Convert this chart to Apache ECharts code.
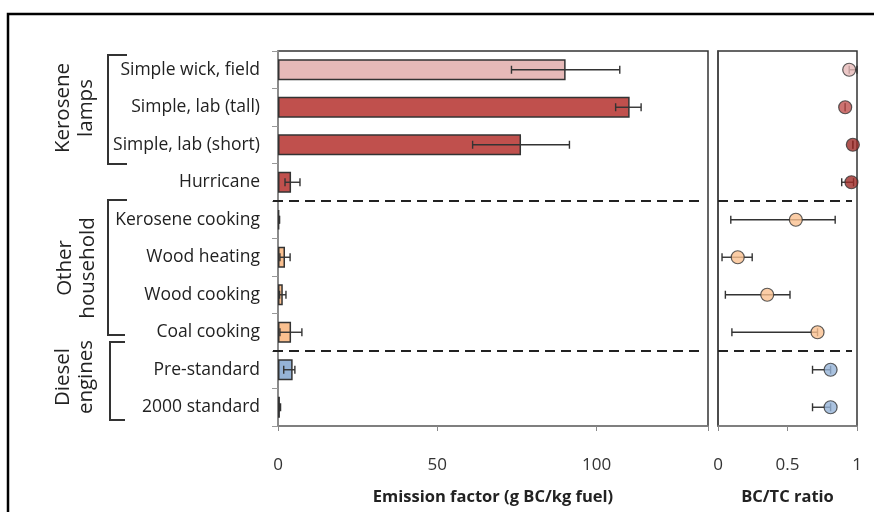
<!DOCTYPE html>
<html><head><meta charset="utf-8">
<script src="https://cdn.jsdelivr.net/npm/echarts@6/dist/echarts.min.js"></script>
<style>html,body{margin:0;padding:0;background:#fff}#c{width:874px;height:512px}</style>
</head><body><div id="c"></div>
<script>
const categories = ['Simple wick, field','Simple, lab (tall)','Simple, lab (short)','Hurricane','Kerosene cooking','Wood heating','Wood cooking','Coal cooking','Pre-standard','2000 standard'];
const emission     = [90.3, 110.4, 76.3, 4.1, 0.4, 2.2, 1.5, 4.1, 4.6, 0.6];
const emissionLow  = [73.3, 106.0, 61.1, 2.2, 0.3, 0.6, 0.5, 0.6, 1.8, 0.4];
const emissionHigh = [107.3, 114.0, 91.5, 6.9, 0.5, 3.8, 2.5, 7.5, 5.3, 0.8];
const ratio     = [0.944, 0.915, 0.97, 0.96, 0.56, 0.142, 0.354, 0.716, 0.81, 0.81];
const ratioLow  = [0.944, 0.915, 0.97, 0.89, 0.092, 0.029, 0.053, 0.10, 0.68, 0.68];
const ratioHigh = [1.0, 0.915, 0.97, 0.975, 0.843, 0.246, 0.518, 0.716, 0.81, 0.81];
const barColors = ['#e6b9b8','#c0504d','#c0504d','#c0504d','#fac090','#fac090','#fac090','#fac090','#95b3d7','#95b3d7'];
const dotColors = ['#e6b9b8','#c0504d','#9e2a27','#9e2a27','#fac090','#fac090','#fac090','#fac090','#95b3d7','#95b3d7'];
const separatorsAfter = [3, 7];
const emissionTicks = [0, 50, 100];
const ratioTicks = [0, 0.5, 1];
const groupLabels = ['Kerosene\nlamps', 'Other\nhousehold', 'Diesel\nengines'];

const FONT = 'Open Sans';
const chart = echarts.init(document.getElementById('c'), null, {renderer: 'canvas'});

function errRender(params, api) {
  const cat = api.value(0);
  const lo = api.coord([api.value(1), cat]);
  const hi = api.coord([api.value(2), cat]);
  const h = 4;
  const style = {stroke: '#333', lineWidth: 1.4};
  return {type: 'group', children: [
    {type: 'line', shape: {x1: lo[0], y1: lo[1], x2: hi[0], y2: hi[1]}, style},
    {type: 'line', shape: {x1: lo[0], y1: lo[1] - h, x2: lo[0], y2: lo[1] + h}, style},
    {type: 'line', shape: {x1: hi[0], y1: hi[1] - h, x2: hi[0], y2: hi[1] + h}, style}
  ]};
}
function sepRender(left, right) {
  return function (params, api) {
    const cs = params.coordSys;
    const c = api.coord([0, api.value(0)]);
    const y = c[1] + api.size([0, 1])[1] / 2;
    return {type: 'line', shape: {x1: cs.x - left, y1: y, x2: cs.x + cs.width - right, y2: y},
      style: {stroke: '#222', lineWidth: 2, lineDash: [10, 6]}};
  };
}
const errData1 = categories.map((c, i) => [i, emissionLow[i], emissionHigh[i]]);
const errData2 = categories.map((c, i) => [i, ratioLow[i], ratioHigh[i]]);
const sepData = separatorsAfter.map(v => [v]);

const xLabel = {fontFamily: FONT, fontSize: 17, color: '#333', margin: 31};
const xName = {fontFamily: FONT, fontSize: 16.5, fontWeight: 'bold', color: '#222'};

chart.setOption({
  animation: false,
  backgroundColor: '#fff',
  grid: [
    {left: 278, top: 51, width: 430, height: 375, show: true, borderColor: '#333', borderWidth: 1.5, containLabel: false},
    {left: 718, top: 51, width: 139, height: 375, show: true, borderColor: '#333', borderWidth: 1.5, containLabel: false}
  ],
  xAxis: [
    {gridIndex: 0, type: 'value', min: 0, max: 135, interval: 50, splitLine: {show: false},
     axisLine: {show: true, lineStyle: {color: '#888', width: 1.5}},
     axisTick: {show: true, length: 5, lineStyle: {color: '#888'}},
     axisLabel: Object.assign({}, xLabel, {customValues: emissionTicks, formatter: v => String(v)}),
     name: 'Emission factor (g BC/kg fuel)', nameLocation: 'middle', nameGap: 63, nameTextStyle: xName},
    {gridIndex: 1, type: 'value', min: 0, max: 1, interval: 0.5, splitLine: {show: false},
     axisLine: {show: true, lineStyle: {color: '#888', width: 1.5}},
     axisTick: {show: true, length: 5, lineStyle: {color: '#888'}},
     axisLabel: Object.assign({}, xLabel, {customValues: ratioTicks, formatter: v => String(v)}),
     name: 'BC/TC ratio', nameLocation: 'middle', nameGap: 63, nameTextStyle: xName}
  ],
  yAxis: [
    {gridIndex: 0, type: 'category', data: categories, inverse: true,
     axisLine: {show: true, lineStyle: {color: '#999', width: 1.5}},
     axisTick: {show: true, length: 6, lineStyle: {color: '#999'}},
     axisLabel: {fontFamily: FONT, fontSize: 17.5, color: '#222', margin: 18}},
    {gridIndex: 1, type: 'category', data: categories, inverse: true,
     axisLine: {show: true, lineStyle: {color: '#444', width: 1.5}},
     axisTick: {show: false}, axisLabel: {show: false}}
  ],
  series: [
    {type: 'bar', xAxisIndex: 0, yAxisIndex: 0, barWidth: 21,
     data: emission.map((v, i) => ({value: v, itemStyle: {color: barColors[i], borderColor: '#333', borderWidth: 1.5}}))},
    {type: 'custom', xAxisIndex: 0, yAxisIndex: 0, renderItem: errRender, encode: {x: [1, 2], y: 0}, data: errData1, z: 5},
    {type: 'custom', xAxisIndex: 0, yAxisIndex: 0, renderItem: sepRender(5, 8), encode: {y: 0}, data: sepData, z: 6},
    {type: 'custom', xAxisIndex: 1, yAxisIndex: 1, renderItem: errRender, encode: {x: [1, 2], y: 0}, data: errData2, z: 5},
    {type: 'custom', xAxisIndex: 1, yAxisIndex: 1, renderItem: sepRender(0, 5), encode: {y: 0}, data: sepData, z: 6},
    {type: 'scatter', xAxisIndex: 1, yAxisIndex: 1, symbol: 'circle', symbolSize: 13, z: 10,
     data: ratio.map((v, i) => ({value: [v, i], itemStyle: {color: dotColors[i], borderColor: '#333', borderWidth: 1.2}}))}
  ],
  graphic: [
    {type: 'rect', shape: {x: 8, y: 14, width: 900, height: 600}, style: {fill: null, stroke: '#000', lineWidth: 2.5}, silent: true},
    // brackets
    {type: 'polyline', shape: {points: [[127, 55], [108, 55], [108, 164], [127, 164]]}, style: {fill: null, stroke: '#333', lineWidth: 2}},
    {type: 'polyline', shape: {points: [[127, 200], [108, 200], [108, 335], [125, 335]]}, style: {fill: null, stroke: '#333', lineWidth: 2}},
    {type: 'polyline', shape: {points: [[125, 342], [110, 342], [110, 420], [125, 420]]}, style: {fill: null, stroke: '#333', lineWidth: 2}},
    {type: 'text', x: 75, y: 108, rotation: Math.PI / 2,
     style: {text: groupLabels[0], fontFamily: FONT, fontSize: 20.5, lineHeight: 23, fill: '#222', align: 'center', verticalAlign: 'middle'}},
    {type: 'text', x: 77, y: 268, rotation: Math.PI / 2,
     style: {text: groupLabels[1], fontFamily: FONT, fontSize: 20.5, lineHeight: 23, fill: '#222', align: 'center', verticalAlign: 'middle'}},
    {type: 'text', x: 75, y: 377, rotation: Math.PI / 2,
     style: {text: groupLabels[2], fontFamily: FONT, fontSize: 20.5, lineHeight: 23, fill: '#222', align: 'center', verticalAlign: 'middle'}}
  ]
});
</script></body></html>
